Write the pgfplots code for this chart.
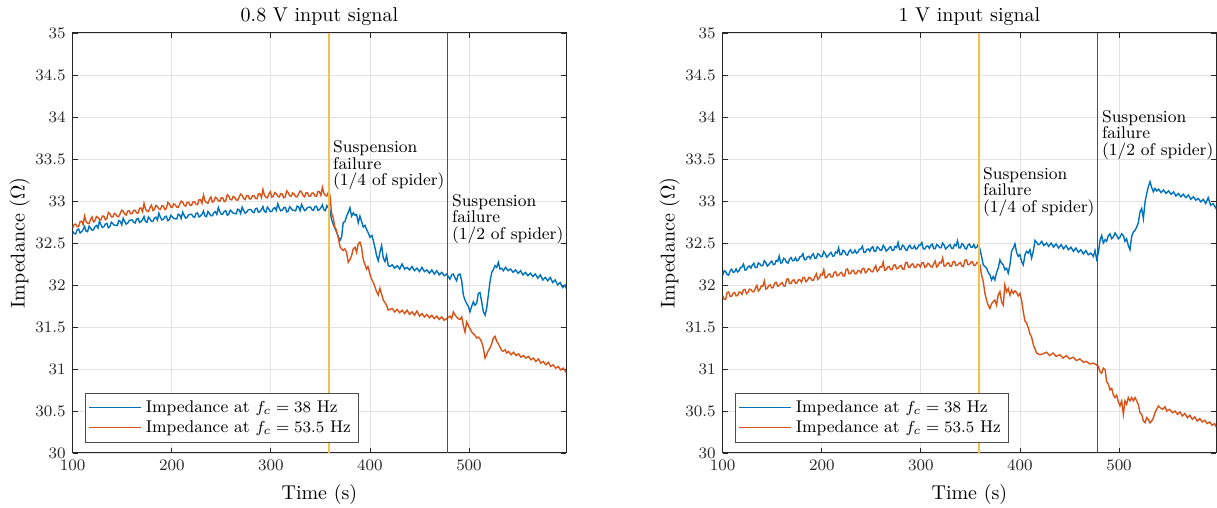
\documentclass[border=0pt]{standalone}
\usepackage{pgfplots}
\pgfplotsset{compat=1.18}
\definecolor{mblue}{HTML}{0072BD}
\definecolor{morange}{HTML}{D95319}
\definecolor{myellow}{HTML}{EDB120}
\definecolor{mpurple}{HTML}{7E2F8E}
\definecolor{axgray}{HTML}{262626}

\pgfplotsset{
  imp/.style={
    scale only axis, width=246.7pt, height=210pt,
    xmin=100, xmax=598, ymin=30, ymax=35,
    enlargelimits=false,
    xtick={100,200,300,400,500},
    ytick={30,30.5,31,31.5,32,32.5,33,33.5,34,34.5,35},
    xtick pos=both, ytick pos=both, tick align=inside,
    major tick length=2.5pt,
    tick style={axgray, line width=0.4pt},
    axis line style={axgray, line width=0.5pt},
    grid=major, major grid style={black!11, line width=0.4pt},
    tick label style={font=\fontsize{8.5}{10}\selectfont, axgray},
    label style={font=\fontsize{10}{12}\selectfont},
    title style={font=\fontsize{10}{12}\selectfont, yshift=-6pt},
    xlabel={Time (s)},
    ylabel={Impedance (\ensuremath{\Omega})},
    ylabel shift=-4pt,
    legend style={at={(0.025,0.025)}, anchor=south west, draw=black!70, fill=white,
      font=\fontsize{8.5}{10}\selectfont, line width=0.4pt,
      inner sep=1.5pt, row sep=-1.5pt},
    legend cell align=left,
    legend image code/.code={\draw[#1, line width=0.5pt] (0cm,0cm) -- (0.92cm,0cm);},
    every axis plot/.append style={line width=0.7pt},
  },
}
\tikzset{ann/.style={anchor=north west, inner sep=0pt, align=left, font=\fontsize{8.5}{8.1}\selectfont}}

\begin{document}
\begin{tikzpicture}
\path[use as bounding box] (-36.35pt,-27.5pt) rectangle (572.15pt,226.5pt);

% ---------- 0.8 V ----------
\begin{axis}[imp, at={(0pt,0pt)}, anchor=south west, title={0.8 V input signal}]
\addplot[mblue] coordinates {
(100,32.640)(101.5,32.614)(103,32.608)(104.5,32.657)(106,32.666)(107.5,32.620)(109,32.634)(110.5,32.658)(112,32.697)(113.5,32.641)(115,32.635)(116.5,32.699)(118,32.678)(119.5,32.652)(121,32.656)(122.5,32.695)(124,32.709)(125.5,32.678)(127,32.762)(128.5,32.716)
(130,32.685)(131.5,32.693)(133,32.726)(134.5,32.734)(136,32.681)(137.5,32.694)(139,32.747)(140.5,32.730)(142,32.712)(143.5,32.710)(145,32.708)(146.5,32.766)(148,32.758)(149.5,32.716)(151,32.794)(152.5,32.757)(154,32.724)(155.5,32.737)(157,32.765)(158.5,32.773)
(160,32.775)(161.5,32.747)(163,32.738)(164.5,32.785)(166,32.792)(167.5,32.744)(169,32.755)(170.5,32.777)(172,32.814)(173.5,32.756)(175,32.747)(176.5,32.809)(178,32.785)(179.5,32.757)(181,32.759)(182.5,32.796)(184,32.807)(185.5,32.774)(187,32.855)(188.5,32.807)
(190,32.774)(191.5,32.781)(193,32.812)(194.5,32.819)(196,32.766)(197.5,32.778)(199,32.829)(200.5,32.811)(202,32.792)(203.5,32.789)(205,32.786)(206.5,32.843)(208,32.834)(209.5,32.791)(211,32.867)(212.5,32.829)(214,32.795)(215.5,32.807)(217,32.834)(218.5,32.841)
(220,32.842)(221.5,32.814)(223,32.805)(224.5,32.852)(226,32.858)(227.5,32.810)(229,32.822)(230.5,32.844)(232,32.880)(233.5,32.822)(235,32.813)(236.5,32.875)(238,32.852)(239.5,32.824)(241,32.825)(242.5,32.862)(244,32.873)(245.5,32.840)(247,32.922)(248.5,32.874)
(250,32.840)(251.5,32.846)(253,32.877)(254.5,32.884)(256,32.830)(257.5,32.841)(259,32.892)(260.5,32.874)(262,32.855)(263.5,32.851)(265,32.847)(266.5,32.903)(268,32.894)(269.5,32.851)(271,32.927)(272.5,32.888)(274,32.854)(275.5,32.866)(277,32.892)(278.5,32.898)
(280,32.899)(281.5,32.870)(283,32.861)(284.5,32.908)(286,32.914)(287.5,32.865)(289,32.876)(290.5,32.898)(292,32.934)(293.5,32.875)(295,32.866)(296.5,32.927)(298,32.903)(299.5,32.874)(301,32.875)(302.5,32.911)(304,32.921)(305.5,32.887)(307,32.967)(308.5,32.918)
(310,32.883)(311.5,32.889)(313,32.919)(314.5,32.925)(316,32.870)(317.5,32.881)(319,32.931)(320.5,32.912)(322,32.892)(323.5,32.888)(325,32.883)(326.5,32.939)(328,32.929)(329.5,32.885)(331,32.960)(332.5,32.921)(334,32.886)(335.5,32.897)(337,32.922)(338.5,32.927)
(340,32.927)(341.5,32.898)(343,32.888)(344.5,32.933)(346,32.938)(347.5,32.889)(349,32.899)(350.5,32.919)(352,32.954)(353.5,32.895)(355,32.885)(356.5,32.945)(358,32.920)
(359.5,32.90)(361.3,32.78)(363,32.72)(366.3,32.63)(368,32.58)(369.7,32.53)(371.4,32.57)(373,32.74)(375,32.76)(376.4,32.82)
(378,32.86)(379.8,32.92)(381.5,32.82)(383.2,32.86)(385,32.83)(386.5,32.84)(388.2,32.74)(389.9,32.82)(391.5,32.76)(393.3,32.69)
(395,32.71)(396.6,32.66)(398.3,32.62)(400,32.57)(402,32.59)(403.4,32.53)(405,32.45)(406.7,32.35)(408.4,32.29)(410.1,32.39)
(411.8,32.47)(413.5,32.32)(415.2,32.28)(416.8,32.35)(418.5,32.23)(420.2,32.22)(422.5,32.24)(425,32.20)(427.5,32.23)(430,32.19)
(432.5,32.25)(435,32.19)(437.5,32.21)(440,32.18)(442.5,32.22)(445,32.17)(447.5,32.20)(450,32.16)(452.5,32.21)(455,32.16)
(457.5,32.18)(460,32.14)(462.5,32.18)(465,32.13)(467.5,32.17)(470,32.12)(472.5,32.15)(475,32.11)(477.5,32.13)
(480.8,32.07)(482.5,32.12)(484.2,32.13)(486,32.08)(487.5,32.05)(489,32.12)(490.9,32.13)(492.6,32.05)(494.3,31.88)(496,31.82)
(497.6,31.78)(499.5,31.74)(501,31.68)(502.5,31.74)(504.4,31.80)(506,31.76)(507.7,31.78)(509.4,31.90)(511.1,31.91)(512.8,31.80)
(514.5,31.68)(516.2,31.64)(517.8,31.72)(519.5,31.88)(521.2,32.04)(522.9,32.15)(524.5,32.18)(526.3,32.23)(528,32.21)(529.6,32.27)
(531.3,32.19)(533,32.20)(534.7,32.17)(537,32.21)(539.5,32.17)(542,32.19)(544.5,32.15)(547,32.18)(549.5,32.14)(552,32.17)
(554.5,32.12)(557,32.15)(559.5,32.11)(562,32.14)(564.5,32.10)(567,32.13)(569.5,32.08)(572,32.12)(574.5,32.06)(577,32.09)
(579.5,32.05)(582,32.09)(584.5,32.03)(587,32.06)(589.5,32.00)(592,32.03)(594.5,31.97)(597,32.00)(598,31.96)
};
\addlegendentry{Impedance at $f_c = 38$ Hz}
\addplot[morange] coordinates {
(100,32.680)(101.5,32.720)(103,32.725)(104.5,32.695)(106,32.695)(107.5,32.755)(109,32.760)(110.5,32.720)(112,32.820)(113.5,32.755)(115,32.735)(116.5,32.730)(118,32.780)(119.5,32.810)(121,32.750)(122.5,32.765)(124,32.815)(125.5,32.805)(127,32.780)(128.5,32.775)
(130,32.820)(131.5,32.819)(133,32.777)(134.5,32.791)(136,32.864)(137.5,32.848)(139,32.811)(140.5,32.810)(142,32.853)(143.5,32.842)(145,32.815)(146.5,32.814)(148,32.852)(149.5,32.891)(151,32.879)(152.5,32.843)(154,32.831)(155.5,32.880)(157,32.883)(158.5,32.847)
(160,32.850)(161.5,32.888)(163,32.890)(164.5,32.858)(166,32.856)(167.5,32.914)(169,32.916)(170.5,32.874)(172,32.971)(173.5,32.904)(175,32.881)(176.5,32.874)(178,32.922)(179.5,32.950)(181,32.887)(182.5,32.900)(184,32.947)(185.5,32.935)(187,32.907)(188.5,32.900)
(190,32.943)(191.5,32.941)(193,32.898)(194.5,32.911)(196,32.983)(197.5,32.966)(199,32.928)(200.5,32.925)(202,32.967)(203.5,32.955)(205,32.927)(206.5,32.925)(208,32.962)(209.5,33.000)(211,32.987)(212.5,32.950)(214,32.937)(215.5,32.984)(217,32.986)(218.5,32.949)
(220,32.951)(221.5,32.989)(223,32.991)(224.5,32.959)(226,32.956)(227.5,33.014)(229,33.016)(230.5,32.973)(232,33.070)(233.5,33.003)(235,32.980)(236.5,32.973)(238,33.020)(239.5,33.048)(241,32.985)(242.5,32.998)(244,33.045)(245.5,33.032)(247,33.004)(248.5,32.997)
(250,33.040)(251.5,33.036)(253,32.992)(254.5,33.004)(256,33.075)(257.5,33.057)(259,33.018)(260.5,33.014)(262,33.055)(263.5,33.042)(265,33.013)(266.5,33.010)(268,33.046)(269.5,33.082)(271,33.068)(272.5,33.030)(274,33.016)(275.5,33.063)(277,33.064)(278.5,33.025)
(280,33.026)(281.5,33.063)(283,33.064)(284.5,33.031)(286,33.027)(287.5,33.084)(289,33.085)(290.5,33.041)(292,33.137)(293.5,33.069)(295,33.045)(296.5,33.037)(298,33.083)(299.5,33.109)(301,33.045)(302.5,33.056)(304,33.101)(305.5,33.087)(307,33.057)(308.5,33.048)
(310,33.088)(311.5,33.084)(313,33.039)(314.5,33.050)(316,33.120)(317.5,33.101)(319,33.061)(320.5,33.057)(322,33.097)(323.5,33.083)(325,33.053)(326.5,33.049)(328,33.084)(329.5,33.120)(331,33.105)(332.5,33.066)(334,33.051)(335.5,33.097)(337,33.097)(338.5,33.058)
(340,33.058)(341.5,33.094)(343,33.094)(344.5,33.060)(346,33.055)(347.5,33.111)(349,33.111)(350.5,33.067)(352,33.162)(353.5,33.093)(355,33.068)(356.5,33.059)(358,33.104)
(359.5,33.08)(361.3,32.86)(363,32.80)(364.5,32.69)(366,32.66)(368,32.56)(370,32.45)(371.4,32.43)(373,32.41)(374.7,32.43)
(376.4,32.39)(378.1,32.27)(379.8,32.30)(381.5,32.35)(383.2,32.43)(385,32.45)(386.5,32.39)(388.2,32.49)(389.9,32.51)(391.5,32.45)
(393.3,32.30)(396.6,32.19)(398,32.22)(400,32.13)(401.7,32.07)(403.4,32.03)(405,31.98)(406.7,31.92)(408.4,31.88)(410.1,31.96)
(411.8,31.89)(413.5,31.82)(415.2,31.79)(416.8,31.76)(418.5,31.70)(420.2,31.71)(422.5,31.72)(425,31.68)(427.5,31.71)(430,31.67)
(432.5,31.70)(435,31.66)(437.5,31.70)(440,31.65)(442.5,31.68)(445,31.64)(447.5,31.69)(450,31.63)(452.5,31.66)(455,31.62)
(457.5,31.65)(460,31.61)(462.5,31.64)(465,31.60)(467.5,31.63)(470,31.59)(472.5,31.62)(475,31.58)(477.5,31.60)
(480.8,31.63)(482.5,31.60)(484.2,31.68)(486,31.64)(487.5,31.62)(489,31.60)(490.9,31.59)(492.6,31.62)(494.3,31.52)(496,31.44)
(497.6,31.56)(499.3,31.52)(501,31.48)(502.7,31.44)(504.4,31.42)(506,31.40)(507.7,31.37)(509.4,31.38)(511.1,31.36)(512.8,31.32)
(514.5,31.25)(516.2,31.13)(517.8,31.17)(519.5,31.22)(521.2,31.25)(522.9,31.30)(524.6,31.37)(526.3,31.39)(528,31.33)(529.6,31.30)
(531.3,31.26)(533,31.22)(534.7,31.21)(536.4,31.23)(538,31.19)(540,31.21)(542.5,31.17)(545,31.20)(547.5,31.16)(550,31.18)
(552.5,31.14)(555,31.16)(557.5,31.13)(560,31.15)(562.5,31.11)(565,31.13)(567.5,31.09)(570,31.12)(572.5,31.07)(575,31.09)
(577.5,31.05)(580,31.08)(582.5,31.03)(585,31.05)(587.5,31.01)(590,31.03)(592.5,30.99)(595,31.01)(597.5,30.97)(598,30.98)
};
\addlegendentry{Impedance at $f_c = 53.5$ Hz}
\addplot[myellow!80!white, line width=1pt, forget plot] coordinates {(359,30) (359,35)};
\addplot[mpurple, line width=0.5pt, forget plot] coordinates {(478,30) (478,35)};
\node[ann] at (axis cs:362.5,33.72) {Suspension\\failure\\(1/4 of spider)};
\node[ann] at (axis cs:482.5,33.08) {Suspension\\failure\\(1/2 of spider)};
\end{axis}

% ---------- 1 V ----------
\begin{axis}[imp, at={(325pt,0pt)}, anchor=south west, title={1 V input signal}]
\addplot[mblue] coordinates {
(100,32.115)(101.5,32.170)(103,32.159)(104.5,32.124)(106,32.118)(107.5,32.168)(109,32.187)(110.5,32.152)(112,32.156)(113.5,32.191)(115,32.155)(116.5,32.170)(118,32.209)(119.5,32.214)(121,32.248)(122.5,32.178)(124,32.182)(125.5,32.217)(127,32.226)(128.5,32.201)
(130,32.240)(131.5,32.258)(133,32.206)(134.5,32.209)(136,32.262)(137.5,32.250)(139,32.228)(140.5,32.231)(142,32.289)(143.5,32.267)(145,32.225)(146.5,32.243)(148,32.266)(149.5,32.284)(151,32.242)(152.5,32.245)(154,32.293)(155.5,32.281)(157,32.344)(158.5,32.262)
(160,32.265)(161.5,32.318)(163,32.305)(164.5,32.268)(166,32.261)(167.5,32.309)(169,32.326)(170.5,32.289)(172,32.291)(173.5,32.324)(175,32.286)(176.5,32.299)(178,32.337)(179.5,32.340)(181,32.372)(182.5,32.300)(184,32.302)(185.5,32.335)(187,32.342)(188.5,32.315)
(190,32.353)(191.5,32.371)(193,32.318)(194.5,32.321)(196,32.373)(197.5,32.361)(199,32.338)(200.5,32.340)(202,32.397)(203.5,32.374)(205,32.331)(206.5,32.348)(208,32.370)(209.5,32.387)(211,32.344)(212.5,32.346)(214,32.393)(215.5,32.381)(217,32.443)(218.5,32.360)
(220,32.362)(221.5,32.414)(223,32.401)(224.5,32.363)(226,32.355)(227.5,32.402)(229,32.419)(230.5,32.381)(232,32.383)(233.5,32.416)(235,32.378)(236.5,32.390)(238,32.427)(239.5,32.429)(241,32.461)(242.5,32.388)(244,32.390)(245.5,32.422)(247,32.429)(248.5,32.402)
(250,32.440)(251.5,32.456)(253,32.402)(254.5,32.403)(256,32.453)(257.5,32.439)(259,32.415)(260.5,32.416)(262,32.472)(263.5,32.448)(265,32.404)(266.5,32.420)(268,32.441)(269.5,32.457)(271,32.412)(272.5,32.413)(274,32.459)(275.5,32.445)(277,32.506)(278.5,32.422)
(280,32.423)(281.5,32.474)(283,32.460)(284.5,32.421)(286,32.411)(287.5,32.457)(289,32.473)(290.5,32.434)(292,32.435)(293.5,32.466)(295,32.427)(296.5,32.438)(298,32.474)(299.5,32.475)(301,32.505)(302.5,32.430)(304,32.430)(305.5,32.461)(307,32.466)(308.5,32.436)
(310,32.471)(311.5,32.487)(313,32.432)(314.5,32.432)(316,32.482)(317.5,32.468)(319,32.443)(320.5,32.444)(322,32.499)(323.5,32.474)(325,32.429)(326.5,32.445)(328,32.465)(329.5,32.480)(331,32.435)(332.5,32.436)(334,32.481)(335.5,32.467)(337,32.527)(338.5,32.442)
(340,32.442)(341.5,32.493)(343,32.478)(344.5,32.438)(346,32.428)(347.5,32.474)(349,32.489)(350.5,32.449)(352,32.449)(353.5,32.480)(355,32.440)(356.5,32.450)(358,32.485)
(359.6,32.43)(361.3,32.34)(363,32.24)(364.5,32.22)(366.3,32.20)(368,32.15)(369.7,32.12)(371.4,32.06)(373,32.10)(374.7,32.06)
(376.4,32.15)(378.1,32.20)(379.8,32.30)(381.5,32.26)(383.2,32.24)(384.8,32.18)(386.5,32.20)(388.2,32.14)(389.9,32.24)(391.6,32.40)
(393.3,32.44)(395,32.49)(396.6,32.39)(398.3,32.34)(400,32.36)(401.7,32.28)(403.4,32.24)(405.1,32.36)(406.7,32.40)(408.4,32.38)
(410.1,32.42)(411.8,32.32)(413.5,32.40)(415.2,32.53)(416.8,32.51)(418.5,32.48)(420.2,32.49)(422,32.52)(424,32.47)(426.9,32.50)
(429,32.46)(431.5,32.50)(434,32.45)(436.5,32.49)(439,32.44)(441.5,32.48)(444,32.43)(446.5,32.47)(449,32.42)(451.5,32.45)
(454,32.40)(456.5,32.44)(459,32.39)(461.5,32.42)(464,32.37)(466.5,32.41)(469,32.36)(471.5,32.38)(474.1,32.34)(475.8,32.41)
(477.4,32.31)(479.1,32.38)(480.8,32.53)(482.5,32.59)(484.2,32.50)(486,32.54)(487.5,32.52)(489,32.58)(490.9,32.61)(492.6,32.55)
(494.3,32.57)(496,32.62)(497.6,32.59)(499.3,32.55)(501,32.57)(502.7,32.61)(504.4,32.59)(506,32.52)(507.7,32.55)(509.4,32.47)
(511.1,32.42)(512.8,32.58)(514.5,32.63)(516.2,32.65)(517.8,32.69)(519.5,32.74)(521.2,32.87)(522.9,32.91)(524.6,32.79)(526.3,32.99)
(528,33.09)(529.6,33.17)(531.3,33.23)(533,33.16)(534.7,33.11)(536.4,33.15)(538,33.12)(540,33.14)(542.5,33.10)(545,33.13)
(547.5,33.09)(550,33.12)(552.5,33.08)(555,33.11)(557.5,33.06)(560,33.09)(562.5,33.05)(565,33.08)(567.5,33.04)(570,33.07)
(572.5,33.02)(575,33.05)(577.5,33.01)(580,33.03)(582.5,32.99)(585,33.02)(587.5,32.97)(590,33.04)(592.5,32.95)(595,32.97)
(597.5,32.92)(598,32.94)
};
\addlegendentry{Impedance at $f_c = 38$ Hz}
\addplot[morange] coordinates {
(100,31.870)(101.5,31.830)(103,31.829)(104.5,31.909)(106,31.918)(107.5,31.863)(109,31.867)(110.5,31.902)(112,31.911)(113.5,31.871)(115,31.875)(116.5,31.915)(118,31.914)(119.5,31.889)(121,31.943)(122.5,31.948)(124,31.897)(125.5,31.912)(127,31.951)(128.5,31.946)
(130,31.920)(131.5,31.919)(133,31.962)(134.5,31.996)(136,31.929)(137.5,31.948)(139,31.991)(140.5,31.985)(142,32.048)(143.5,31.952)(145,31.960)(146.5,31.994)(148,32.002)(149.5,31.966)(151,31.969)(152.5,32.023)(154,32.031)(155.5,31.985)(157,31.993)(158.5,32.017)
(160,32.030)(161.5,31.989)(163,31.987)(164.5,32.066)(166,32.074)(167.5,32.017)(169,32.020)(170.5,32.054)(172,32.062)(173.5,32.021)(175,32.024)(176.5,32.063)(178,32.061)(179.5,32.034)(181,32.087)(182.5,32.091)(184,32.039)(185.5,32.053)(187,32.091)(188.5,32.085)
(190,32.058)(191.5,32.056)(193,32.099)(194.5,32.133)(196,32.066)(197.5,32.085)(199,32.128)(200.5,32.120)(202,32.182)(203.5,32.085)(205,32.092)(206.5,32.125)(208,32.132)(209.5,32.095)(211,32.097)(212.5,32.150)(214,32.157)(215.5,32.109)(217,32.116)(218.5,32.139)
(220,32.151)(221.5,32.109)(223,32.106)(224.5,32.184)(226,32.191)(227.5,32.134)(229,32.136)(230.5,32.168)(232,32.175)(233.5,32.133)(235,32.135)(236.5,32.173)(238,32.170)(239.5,32.143)(241,32.195)(242.5,32.198)(244,32.145)(245.5,32.157)(247,32.194)(248.5,32.187)
(250,32.160)(251.5,32.157)(253,32.198)(254.5,32.230)(256,32.162)(257.5,32.179)(259,32.220)(260.5,32.212)(262,32.273)(263.5,32.175)(265,32.182)(266.5,32.214)(268,32.220)(269.5,32.182)(271,32.183)(272.5,32.235)(274,32.241)(275.5,32.193)(277,32.200)(278.5,32.222)
(280,32.233)(281.5,32.190)(283,32.186)(284.5,32.263)(286,32.270)(287.5,32.212)(289,32.213)(290.5,32.245)(292,32.251)(293.5,32.208)(295,32.210)(296.5,32.247)(298,32.243)(299.5,32.214)(301,32.265)(302.5,32.266)(304,32.211)(305.5,32.222)(307,32.257)(308.5,32.248)
(310,32.218)(311.5,32.214)(313,32.254)(314.5,32.285)(316,32.215)(317.5,32.231)(319,32.271)(320.5,32.262)(322,32.322)(323.5,32.223)(325,32.228)(326.5,32.259)(328,32.264)(329.5,32.225)(331,32.225)(332.5,32.276)(334,32.281)(335.5,32.232)(337,32.237)(338.5,32.258)
(340,32.268)(341.5,32.224)(343,32.219)(344.5,32.295)(346,32.300)(347.5,32.241)(349,32.241)(350.5,32.272)(352,32.277)(353.5,32.233)(355,32.233)(356.5,32.269)(358,32.264)
(359.6,32.24)(361.3,32.12)(363,32.04)(364.7,31.90)(366.3,31.82)(368,31.76)(369.7,31.72)(371.4,31.78)(373,31.80)(374.7,31.82)
(376.4,31.76)(378.1,31.88)(379.8,31.92)(381.5,31.80)(383.2,31.76)(384.8,32.00)(386.5,31.92)(388.2,31.96)(389.9,31.88)(391.6,31.94)
(393.3,31.90)(395,31.93)(396.6,31.91)(398.3,31.87)(400,31.90)(401.7,31.82)(403.4,31.68)(405.1,31.57)(406.7,31.55)(408.4,31.49)
(410.1,31.42)(411.8,31.38)(413.5,31.29)(415.2,31.24)(416.8,31.19)(420,31.17)(423,31.18)(426.9,31.20)(430,31.16)(433.5,31.19)
(436.5,31.15)(440.4,31.17)(443.5,31.13)(447,31.16)(450,31.12)(453.9,31.14)(457,31.10)(460.5,31.12)(464,31.08)(467.3,31.09)
(470.5,31.06)(474,31.07)(477.4,31.05)(479.1,31.03)(480.8,30.97)(482.5,30.95)(484.2,31.01)(486,30.99)(487.5,30.85)(489.2,30.82)
(490.9,30.75)(492.6,30.77)(494.3,30.69)(496,30.66)(497.6,30.69)(499.3,30.61)(501,30.56)(502.7,30.62)(504.4,30.46)(506,30.62)
(507.7,30.58)(509.4,30.66)(511.1,30.62)(512.8,30.66)(514.5,30.62)(516.2,30.66)(517.8,30.62)(519.5,30.58)(521.2,30.48)(522.9,30.46)
(524.6,30.38)(526.3,30.36)(528,30.42)(529.6,30.40)(531.3,30.36)(533,30.38)(534.7,30.42)(536.4,30.48)(538,30.52)(539.7,30.56)
(541.4,30.54)(544,30.52)(546.5,30.55)(548.1,30.50)(551,30.52)(554,30.48)(556.5,30.50)(559,30.46)(561.5,30.49)(564,30.44)
(566.5,30.47)(569,30.42)(571.5,30.45)(574,30.40)(576.5,30.43)(579,30.38)(581.5,30.41)(584,30.37)(586.5,30.39)(589,30.35)
(591.5,30.37)(594,30.33)(596.5,30.35)(598,30.31)
};
\addlegendentry{Impedance at $f_c = 53.5$ Hz}
\addplot[myellow!80!white, line width=1pt, forget plot] coordinates {(359,30) (359,35)};
\addplot[mpurple, line width=0.5pt, forget plot] coordinates {(478,30) (478,35)};
\node[ann] at (axis cs:362.5,33.40) {Suspension\\failure\\(1/4 of spider)};
\node[ann] at (axis cs:482.5,34.08) {Suspension\\failure\\(1/2 of spider)};
\end{axis}
\end{tikzpicture}
\end{document}
